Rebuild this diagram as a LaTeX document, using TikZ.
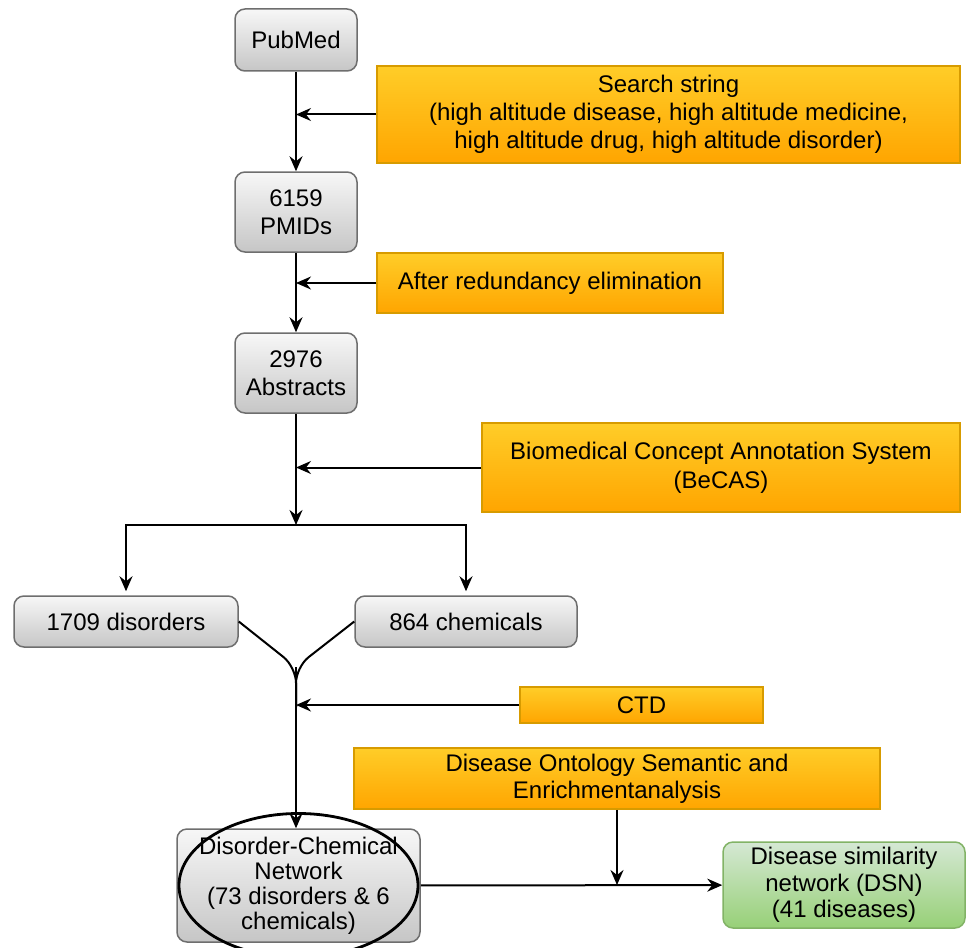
\documentclass[tikz,border=0pt]{standalone}
\usepackage{fontspec}
\setmainfont{Liberation Sans}
\usetikzlibrary{arrows.meta,positioning}

\definecolor{greyTop}{HTML}{F7F7F7}
\definecolor{greyBottom}{HTML}{C6C6C6}
\definecolor{greyLine}{HTML}{6E6E6E}
\definecolor{orangeTop}{HTML}{FFCD28}
\definecolor{orangeBottom}{HTML}{FFA500}
\definecolor{orangeLine}{HTML}{D79B00}
\definecolor{greenTop}{HTML}{D5E8D4}
\definecolor{greenBottom}{HTML}{97D077}
\definecolor{greenLine}{HTML}{82B366}

\begin{document}
\begin{tikzpicture}
    [
        x=0.5pt, y=-0.5pt,
        every node/.style={font=\fontsize{12}{14}\selectfont, align=center, inner sep=1pt},
        GreyBox/.style={rectangle,rounded corners=5pt,draw=greyLine,line width=0.75pt,top color=greyTop,bottom color=greyBottom},
        OrangeBox/.style={rectangle,draw=orangeLine,line width=0.75pt,top color=orangeTop,bottom color=orangeBottom},
        GreenBox/.style={rectangle,rounded corners=5pt,draw=greenLine,line width=0.75pt,top color=greenTop,bottom color=greenBottom},
        Arrow/.style={-{Stealth[length=7.5pt,width=6.5pt,inset=2.5pt]},line width=1pt},
        Link/.style={line width=1pt},
        Ring/.style={line width=1.4pt}
    ]
    \useasboundingbox (0,0) rectangle (968,947);

    % main column
    \node[GreyBox,minimum width=61pt,minimum height=31pt] (pubMed) at (296,40) {PubMed};
    \node[GreyBox,minimum width=61pt,minimum height=40pt] (pmids) at (296,212) {6159\\PMIDs};
    \node[GreyBox,minimum width=61pt,minimum height=40pt] (abstracts) at (296,373) {2976\\Abstracts};
    \node[GreyBox,minimum width=112pt,minimum height=25.5pt] (disorders) at (126,621.5) {1709 disorders};
    \node[GreyBox,minimum width=111pt,minimum height=25.5pt] (chemicals) at (466,621.5) {864 chemicals};
    \node[GreyBox,minimum width=121.5pt,minimum height=56.5pt,font=\fontsize{12}{12.5}\selectfont] (network) at (298.5,885.5) {Disorder-Chemical\\Network\\(73 disorders \& 6\\chemicals)};
    \node[GreenBox,minimum width=121pt,minimum height=43pt,font=\fontsize{12}{13.25}\selectfont] (dsn) at (844,885) {Disease similarity\\network (DSN)\\(41 diseases)};

    % side steps
    \node[OrangeBox,minimum width=291.5pt,minimum height=48.5pt] (searchString) at (668.5,114.5) {Search string\\(high altitude disease, high altitude medicine,\\high altitude drug, high altitude disorder)};
    \node[OrangeBox,minimum width=173pt,minimum height=30pt] (redundancy) at (550,283) {After redundancy elimination};
    \node[OrangeBox,minimum width=239pt,minimum height=44.5pt,font=\fontsize{12}{14.5}\selectfont] (becas) at (721,467.5) {Biomedical Concept Annotation System\\(BeCAS)};
    \node[OrangeBox,minimum width=121.5pt,minimum height=18pt] (ctd) at (641.5,705) {CTD};
    \node[OrangeBox,minimum width=263pt,minimum height=30.5pt,font=\fontsize{12}{13.5}\selectfont] (dose) at (617,778.5) {Disease Ontology Semantic and\\Enrichmentanalysis};

    \coordinate (split) at (296,525);
    \coordinate (merge) at (296,667);

    \draw[Arrow] (pubMed) -- (pmids);
    \draw[Arrow] (searchString) -- (searchString -| pubMed);
    \draw[Arrow] (pmids) -- (abstracts);
    \draw[Arrow] (redundancy) -- (redundancy -| pmids);
    \draw[Arrow] (abstracts) -- (split);
    \draw[Arrow] (becas) -- (becas -| abstracts);
    \draw[Arrow,shorten >=2pt] (split) -| (disorders.north);
    \draw[Arrow,shorten >=2pt] (split) -| (chemicals.north);

    \draw[Link,rounded corners=8pt] (disorders.east) -- (merge) -- ++(0,40);
    \draw[Link,rounded corners=8pt] (chemicals.west) -- (merge) -- ++(0,40);
    \draw[Arrow] (merge) -- (merge |- network.north);
    \draw[Arrow] (ctd) -- (ctd -| merge);

    \draw[Arrow] (network) -- (dsn);
    \draw[Arrow] (dose) -- (dose |- dsn);
    \draw[Ring] (network.center) ellipse [x radius=59.75pt, y radius=36pt];
\end{tikzpicture}
\end{document}
